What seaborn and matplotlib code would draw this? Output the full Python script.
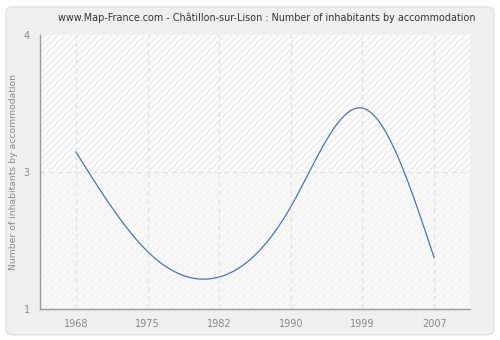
import numpy as np
import pandas as pd
import seaborn as sns
import matplotlib
matplotlib.use("Agg")
import matplotlib.pyplot as plt
from matplotlib.patches import FancyBboxPatch, Rectangle

years = ["1968", "1975", "1982", "1990", "1999", "2007"]
values = [2.72, 1.63, 1.35, 2.12, 3.20, 1.56]
ytick_vals = [1, 2.5, 4]
ytick_labels = ["1", "3", "4"]
title = "www.Map-France.com - Châtillon-sur-Lison : Number of inhabitants by accommodation"
ylabel = "Number of inhabitants by accommodation"


def natural_spline(x, y, xs):
    x = np.asarray(x, float); y = np.asarray(y, float)
    n = len(x)
    h = np.diff(x)
    A = np.zeros((n, n)); b = np.zeros(n)
    A[0, 0] = 1; A[-1, -1] = 1
    for i in range(1, n - 1):
        A[i, i - 1] = h[i - 1]
        A[i, i] = 2 * (h[i - 1] + h[i])
        A[i, i + 1] = h[i]
        b[i] = 3 * ((y[i + 1] - y[i]) / h[i] - (y[i] - y[i - 1]) / h[i - 1])
    c = np.linalg.solve(A, b)
    out = np.empty_like(xs)
    for k, t in enumerate(xs):
        i = min(max(np.searchsorted(x, t) - 1, 0), n - 2)
        d = t - x[i]
        bi = (y[i + 1] - y[i]) / h[i] - h[i] * (2 * c[i] + c[i + 1]) / 3
        di = (c[i + 1] - c[i]) / (3 * h[i])
        out[k] = y[i] + bi * d + c[i] * d ** 2 + di * d ** 3
    return out


sns.set_style("white")
plt.rcParams["font.family"] = ["DejaVu Sans"]
plt.rcParams["hatch.linewidth"] = 0.6

fig = plt.figure(figsize=(5, 3.4), dpi=100)
fig.patch.set_facecolor("white")
bg = FancyBboxPatch((0.012, 0.015), 0.976, 0.965,
                    boxstyle="round,pad=0,rounding_size=0.015",
                    transform=fig.transFigure, facecolor="#efefef",
                    edgecolor="#e2e2e2", linewidth=1, zorder=-10)
fig.patches.append(bg)

ax = fig.add_axes([0.08, 0.0912, 0.86, 0.8058])
ax.set_zorder(1)
ax.set_facecolor("#f8f8f8")

pos = np.arange(len(years))
xs = np.linspace(0, len(years) - 1, 300)
ys = natural_spline(pos, values, xs)
df = pd.DataFrame({"x": xs, "y": ys})

ax.set_xlim(-0.5, len(years) - 0.5)
ax.set_ylim(1, 4)

ax.add_patch(Rectangle((-0.5, 2.5), len(years), 1.5, facecolor="#fbfbfb",
                       edgecolor="#e4e4e4", hatch="/////", linewidth=0, zorder=0))
ax.add_patch(Rectangle((-0.5, 1), len(years), 1.5, facecolor="#f8f8f8",
                       edgecolor="#efefef", hatch="/////", linewidth=0, zorder=0))

for p in pos:
    ax.axvline(p, color="#e2e2e2", linestyle=(0, (4, 3)), linewidth=0.9, zorder=1)
ax.axhline(2.5, color="#e2e2e2", linestyle=(0, (4, 3)), linewidth=0.9, zorder=1)

sns.lineplot(data=df, x="x", y="y", ax=ax, color="#4a75ad", linewidth=0.9, zorder=3)

ax.set_xticks(pos)
ax.set_xticklabels(years)
ax.set_yticks(ytick_vals)
ax.set_yticklabels(ytick_labels)
ax.set_xlabel("")
ax.set_ylabel(ylabel, color="#888888", fontsize=6.7)
ax.tick_params(axis="both", colors="#888888", labelcolor="#888888", labelsize=7,
               length=4, width=0.8, direction="out")
ax.tick_params(axis="x", pad=3)
for s in ["top", "right"]:
    ax.spines[s].set_visible(False)
for s in ["left", "bottom"]:
    ax.spines[s].set_color("#999999")
    ax.spines[s].set_linewidth(1)

fig.text(0.534, 0.948, title, ha="center", va="center", fontsize=6.9, color="#333333")

fig.savefig("out.png", dpi=100)
